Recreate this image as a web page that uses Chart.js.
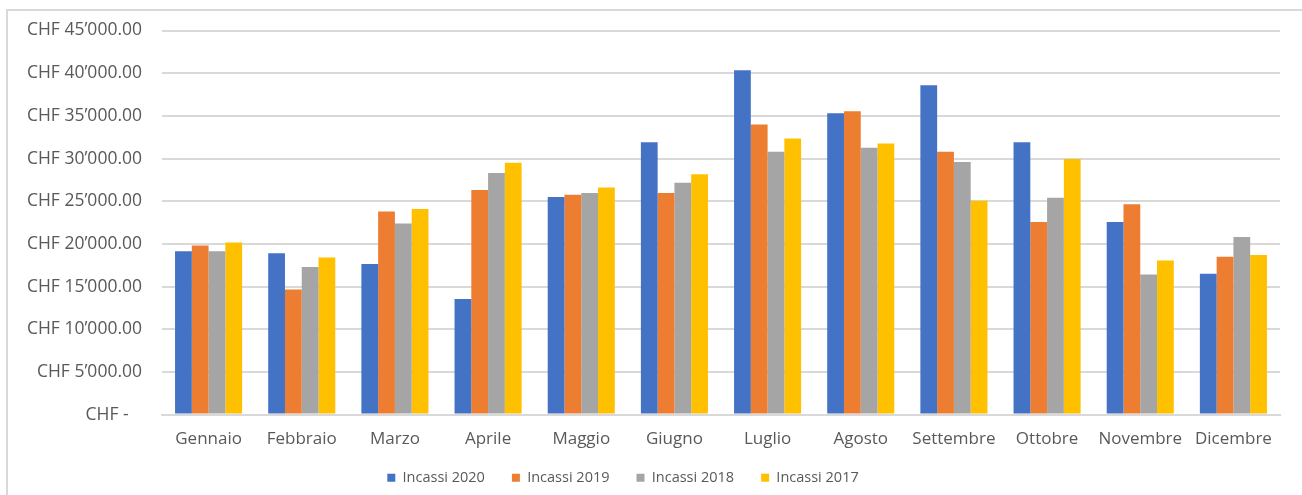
<!DOCTYPE html>
<html>
<head>
<meta charset="utf-8">
<script src="https://cdn.jsdelivr.net/npm/chart.js@4"></script>
<style>
  html, body { margin: 0; padding: 0; background: #fff; overflow: hidden; }
  #wrap { position: relative; width: 1302px; height: 495px; }
  #frame { position: absolute; left: 6px; top: 9px; width: 1310px; height: 500px; border-left: 2px solid #d9d9d9; border-top: 2px solid #d9d9d9; box-sizing: border-box; }
  canvas { position: absolute; left: 0; top: 0; }
</style>
</head>
<body>
<div id="wrap">
  <div id="frame"></div>
  <canvas id="c" width="1302" height="495"></canvas>
</div>
<script>
const months = ["Gennaio","Febbraio","Marzo","Aprile","Maggio","Giugno","Luglio","Agosto","Settembre","Ottobre","Novembre","Dicembre"];
const incassi2020 = [19150, 18900, 17650, 13550, 25500, 31900, 40350, 35300, 38600, 31900, 22550, 16500];
const incassi2019 = [19800, 14650, 23800, 26300, 25750, 25950, 34000, 35550, 30800, 22550, 24650, 18500];
const incassi2018 = [19150, 17300, 22400, 28300, 25950, 27150, 30800, 31250, 29600, 25400, 16400, 20800];
const incassi2017 = [20150, 18400, 24100, 29500, 26600, 28150, 32350, 31750, 25050, 29950, 18050, 18700];
const seriesNames = ["Incassi 2020", "Incassi 2019", "Incassi 2018", "Incassi 2017"];
const yTickValues = [0, 5000, 10000, 15000, 20000, 25000, 30000, 35000, 40000, 45000];
const yTickLabels = ["CHF -\u2002 ", "CHF 5\u2019000.00", "CHF 10\u2019000.00", "CHF 15\u2019000.00", "CHF 20\u2019000.00", "CHF 25\u2019000.00", "CHF 30\u2019000.00", "CHF 35\u2019000.00", "CHF 40\u2019000.00", "CHF 45\u2019000.00"];

const colors = ["#4472C4", "#ED7D31", "#A5A5A5", "#FFC000"];
const seriesData = [incassi2020, incassi2019, incassi2018, incassi2017];
const FONT = "'Open Sans', 'Noto Sans', sans-serif";

const legendPlace = {
  id: 'legendPlace',
  afterLayout(chart) {
    const lg = chart.legend;
    if (!lg) return;
    const h = lg.bottom - lg.top;
    lg.top = chart.chartArea.bottom + 29;
    lg.bottom = lg.top + h;
    lg.left -= 17; lg.right -= 17;
  }
};

new Chart(document.getElementById('c'), {
  type: 'bar',
  data: {
    labels: months,
    datasets: seriesData.map((d, i) => ({
      label: seriesNames[i],
      data: d,
      backgroundColor: colors[i],
      borderWidth: 0,
      categoryPercentage: 0.72,
      barPercentage: 1.0
    }))
  },
  options: {
    responsive: false,
    animation: false,
    devicePixelRatio: 1,
    layout: { padding: { left: 0, right: 22, top: 30, bottom: -19.5 } },
    plugins: {
      tooltip: { enabled: false },
      legend: {
        position: 'bottom',
        labels: {
          boxWidth: 8, boxHeight: 8,
          color: '#595959',
          font: { family: FONT, size: 14.5 },
          padding: 27
        }
      }
    },
    scales: {
      x: {
        grid: { display: false, drawTicks: false },
        border: { color: '#d9d9d9', width: 2 },
        ticks: { color: '#595959', font: { family: FONT, size: 17 }, padding: 14, maxRotation: 0, autoSkip: false }
      },
      y: {
        min: 0, max: 45000,
        afterFit: (s) => { s.width = 162; },
        afterBuildTicks: (s) => { s.ticks = yTickValues.map(v => ({ value: v })); },
        grid: { color: '#d9d9d9', lineWidth: 2, drawTicks: false },
        border: { display: false },
        ticks: {
          color: '#595959', font: { family: FONT, size: 17.5 }, padding: 20,
          callback: (v) => { const i = yTickValues.indexOf(v); return i >= 0 ? yTickLabels[i] : ''; }
        }
      }
    }
  },
  plugins: [legendPlace]
});
</script>
</body>
</html>
